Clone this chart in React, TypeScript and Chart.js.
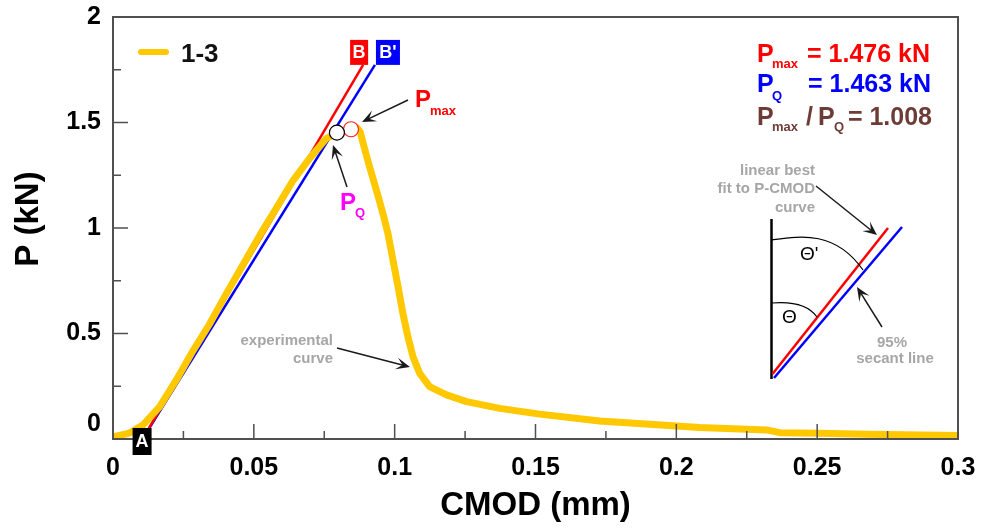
import React, { useEffect, useRef } from 'react';
import { Chart, registerables } from 'chart.js';

Chart.register(...registerables);

// ---------- data ----------
const SERIES_NAME = '1-3';
const CMOD = [
  0, 0.0059, 0.0106, 0.0166, 0.0225, 0.0284, 0.0343, 0.0403, 0.0461, 0.0521,
  0.058, 0.0639, 0.0698, 0.0758, 0.08, 0.0835, 0.0865, 0.0878, 0.0888, 0.0911,
  0.0935, 0.0958, 0.0976, 0.0994, 0.1012, 0.1029, 0.1047, 0.1065, 0.1089, 0.1124,
  0.1184, 0.1255, 0.1373, 0.1515, 0.1728, 0.1905, 0.2, 0.2083, 0.232, 0.2367,
  0.2503, 0.2675, 0.3,
];
const LOAD = [
  0.01, 0.028, 0.066, 0.153, 0.28, 0.418, 0.545, 0.69, 0.825, 0.965,
  1.095, 1.225, 1.33, 1.425, 1.452, 1.468, 1.476, 1.455, 1.401, 1.29,
  1.18, 1.07, 0.975, 0.848, 0.722, 0.596, 0.485, 0.39, 0.311, 0.248,
  0.209, 0.177, 0.145, 0.118, 0.085, 0.07, 0.062, 0.055, 0.043, 0.03,
  0.027, 0.022, 0.016,
];
// linear best fit (B) and 95% secant (B')
const LINE_B_X = [0.0105, 0.0888];
const LINE_B_Y = [0, 1.773];
const LINE_B2_X = [0.0105, 0.093];
const LINE_B2_Y = [0, 1.773];
const PMAX_POINT = [0.0845, 1.468];
const PQ_POINT = [0.0795, 1.452];
const PMAX = 1.476;
const PQ = 1.463;
const RATIO = 1.008;

const X_TICK_VALUES = [0, 0.05, 0.1, 0.15, 0.2, 0.25, 0.3];
const X_TICK_LABELS = ['0', '0.05', '0.1', '0.15', '0.2', '0.25', '0.3'];
const Y_TICK_VALUES = [0, 0.5, 1, 1.5, 2];
const Y_TICK_LABELS = ['0', '0.5', '1', '1.5', '2'];
const X_TITLE = 'CMOD (mm)';
const Y_TITLE = 'P (kN)';

const FONT = '"Liberation Sans", Arial, Helvetica, sans-serif';
const fnt = (size: number, weight = 'bold') => `${weight} ${size}px ${FONT}`;

const labelFor = (v: number, vals: number[], labels: string[]) => {
  const i = vals.findIndex((t) => Math.abs(t - v) < 1e-6);
  return i >= 0 ? labels[i] : '';
};

function arrow(ctx: CanvasRenderingContext2D, x1: number, y1: number, x2: number, y2: number) {
  const ang = Math.atan2(y2 - y1, x2 - x1);
  const hl = 14, hw = 6;
  ctx.save();
  ctx.strokeStyle = '#1a1a1a';
  ctx.fillStyle = '#1a1a1a';
  ctx.lineWidth = 1.5;
  ctx.beginPath();
  ctx.moveTo(x1, y1);
  ctx.lineTo(x2 - Math.cos(ang) * 6, y2 - Math.sin(ang) * 6);
  ctx.stroke();
  ctx.translate(x2, y2);
  ctx.rotate(ang);
  ctx.beginPath();
  ctx.moveTo(0, 0);
  ctx.lineTo(-hl, -hw);
  ctx.lineTo(-hl * 0.55, 0);
  ctx.lineTo(-hl, hw);
  ctx.closePath();
  ctx.fill();
  ctx.restore();
}

function txt(ctx: CanvasRenderingContext2D, s: string, x: number, y: number, font: string, color: string, align: CanvasTextAlign = 'left') {
  ctx.font = font;
  ctx.fillStyle = color;
  ctx.textAlign = align;
  ctx.textBaseline = 'alphabetic';
  ctx.fillText(s, x, y);
}

function boxLabel(ctx: CanvasRenderingContext2D, s: string, x: number, y: number, w: number, h: number, bg: string) {
  ctx.fillStyle = bg;
  ctx.fillRect(x, y, w, h);
  ctx.font = fnt(18);
  ctx.fillStyle = '#ffffff';
  ctx.textAlign = 'center';
  ctx.textBaseline = 'middle';
  ctx.fillText(s, x + w / 2, y + h / 2 + 1);
}

const decor = {
  id: 'decor',
  afterDatasetsDraw(chart: any) {
    const { ctx, chartArea: ca, scales } = chart;
    const xs = scales.x, ys = scales.y;
    const ox = ca.left - 113, oy = ca.top - 17;
    const X = (p: number) => p + ox;
    const Y = (p: number) => p + oy;
    ctx.save();

    // frame
    ctx.strokeStyle = '#505050';
    ctx.lineWidth = 2;
    ctx.strokeRect(ca.left, ca.top, ca.right - ca.left, ca.bottom - ca.top);

    // inward tick marks
    ctx.lineWidth = 1.5;
    ctx.beginPath();
    xs.ticks.forEach((t: any) => {
      const px = xs.getPixelForValue(t.value);
      if (px <= ca.left + 1 || px >= ca.right - 1) return;
      const major = Math.abs(t.value / 0.05 - Math.round(t.value / 0.05)) < 1e-6;
      ctx.moveTo(px, ca.bottom);
      ctx.lineTo(px, ca.bottom - (major ? 15 : 8));
    });
    ys.ticks.forEach((t: any) => {
      const py = ys.getPixelForValue(t.value);
      if (py <= ca.top + 1 || py >= ca.bottom - 1) return;
      const major = Math.abs(t.value / 0.5 - Math.round(t.value / 0.5)) < 1e-6;
      ctx.moveTo(ca.left, py);
      ctx.lineTo(ca.left + (major ? 15 : 8), py);
    });
    ctx.stroke();

    // y axis title
    ctx.save();
    ctx.translate(29, (ca.top + ca.bottom) / 2 - 9);
    ctx.rotate(-Math.PI / 2);
    ctx.font = fnt(33);
    ctx.fillStyle = '#000000';
    ctx.textAlign = 'center';
    ctx.textBaseline = 'middle';
    ctx.fillText(Y_TITLE, 0, 0);
    ctx.restore();

    // legend
    ctx.strokeStyle = '#ffc800';
    ctx.lineWidth = 6;
    ctx.lineCap = 'round';
    ctx.beginPath();
    ctx.moveTo(X(141), Y(52));
    ctx.lineTo(X(166), Y(52));
    ctx.stroke();
    ctx.lineCap = 'butt';
    txt(ctx, SERIES_NAME, X(181), Y(62), fnt(26), '#111111');

    // A, B, B' boxes
    const aX = xs.getPixelForValue(LINE_B_X[0]);
    const aY = ys.getPixelForValue(LINE_B_Y[0]);
    boxLabel(ctx, 'A', aX - 10, aY - 11, 19, 27, '#000000');
    const bX = xs.getPixelForValue(LINE_B_X[1]);
    const bY = ys.getPixelForValue(LINE_B_Y[1]);
    boxLabel(ctx, 'B', bX - 13, bY - 25, 18, 25, '#ff0000');
    const b2X = xs.getPixelForValue(LINE_B2_X[1]);
    const b2Y = ys.getPixelForValue(LINE_B2_Y[1]);
    boxLabel(ctx, "B'", b2X + 1, b2Y - 25, 24, 25, '#0000ff');

    // Pmax / PQ labels near peak
    txt(ctx, 'P', X(415), Y(107), fnt(24), '#ff0000');
    txt(ctx, 'max', X(430), Y(115), fnt(13), '#ff0000');
    arrow(ctx, X(408), Y(100), X(362), Y(122));
    txt(ctx, 'P', X(340), Y(210), fnt(24), '#ff00ff');
    txt(ctx, 'Q', X(355), Y(217), fnt(13), '#ff00ff');
    arrow(ctx, X(347), Y(187), X(333), Y(145));

    // experimental curve
    const gray = '#a6a6a6';
    txt(ctx, 'experimental', X(333), Y(345), fnt(15), gray, 'right');
    txt(ctx, 'curve', X(333), Y(363), fnt(15), gray, 'right');
    arrow(ctx, X(337), Y(348), X(410), Y(367));

    // top-right results
    const red = '#ff0000', blue = '#0000ff', brown = '#6e3c36';
    txt(ctx, 'P', X(757), Y(62), fnt(25), red);
    txt(ctx, 'max', X(772), Y(68), fnt(13), red);
    txt(ctx, `= ${PMAX.toFixed(3)} kN`, X(930), Y(62), fnt(25), red, 'right');
    txt(ctx, 'P', X(757), Y(92), fnt(25), blue);
    txt(ctx, 'Q', X(772), Y(100), fnt(13), blue);
    txt(ctx, `= ${PQ.toFixed(3)} kN`, X(931), Y(92), fnt(25), blue, 'right');
    txt(ctx, 'P', X(757), Y(125), fnt(25), brown);
    txt(ctx, 'max', X(772), Y(131), fnt(13), brown);
    txt(ctx, '/', X(806), Y(125), fnt(25), brown);
    txt(ctx, 'P', X(818), Y(125), fnt(25), brown);
    txt(ctx, 'Q', X(834), Y(131), fnt(13), brown);
    txt(ctx, `= ${RATIO.toFixed(3)}`, X(932), Y(125), fnt(25), brown, 'right');

    // inset schematic
    ctx.strokeStyle = '#000000';
    ctx.lineWidth = 2.5;
    ctx.beginPath();
    ctx.moveTo(X(771.5), Y(219));
    ctx.lineTo(X(771.5), Y(379));
    ctx.stroke();
    ctx.strokeStyle = '#ff0000';
    ctx.beginPath();
    ctx.moveTo(X(772.5), Y(374));
    ctx.lineTo(X(888), Y(228));
    ctx.stroke();
    ctx.strokeStyle = '#0000ff';
    ctx.beginPath();
    ctx.moveTo(X(774), Y(378));
    ctx.lineTo(X(902), Y(227));
    ctx.stroke();
    ctx.strokeStyle = '#000000';
    ctx.lineWidth = 1.2;
    ctx.beginPath();
    ctx.moveTo(X(771.5), Y(240));
    ctx.bezierCurveTo(X(800), Y(236), X(835), Y(230), X(863), Y(270));
    ctx.stroke();
    ctx.beginPath();
    ctx.moveTo(X(771.5), Y(303));
    ctx.quadraticCurveTo(X(805), Y(300), X(817), Y(317));
    ctx.stroke();
    txt(ctx, "\u0398'", X(800), Y(260), fnt(19, 'normal'), '#000000');
    txt(ctx, '\u0398', X(782), Y(323), fnt(19, 'normal'), '#000000');
    txt(ctx, 'linear best', X(815), Y(175), fnt(15), gray, 'right');
    txt(ctx, 'fit to P-CMOD', X(815), Y(193), fnt(15), gray, 'right');
    txt(ctx, 'curve', X(815), Y(212), fnt(15), gray, 'right');
    arrow(ctx, X(816), Y(186), X(877), Y(235));
    txt(ctx, '95%', X(892), Y(347), fnt(15), gray, 'center');
    txt(ctx, 'secant line', X(895), Y(363), fnt(15), gray, 'center');
    arrow(ctx, X(882), Y(327), X(857), Y(287));

    ctx.restore();
  },
};

const zeroPad = (s: any) => {
  s.paddingTop = 0;
  s.paddingBottom = 0;
  s.paddingLeft = 0;
  s.paddingRight = 0;
};

export default function App() {
  const ref = useRef<HTMLCanvasElement | null>(null);

  useEffect(() => {
    if (!ref.current) return;
    const pts = CMOD.map((x, i) => ({ x, y: LOAD[i] }));
    const chart = new Chart(ref.current, {
      type: 'line',
      data: {
        datasets: [
          {
            label: 'PQ',
            data: [{ x: PQ_POINT[0], y: PQ_POINT[1] }],
            showLine: false,
            pointRadius: 7.5,
            pointBackgroundColor: '#ffffff',
            pointBorderColor: '#000000',
            pointBorderWidth: 1.2,
          },
          {
            label: 'Pmax',
            data: [{ x: PMAX_POINT[0], y: PMAX_POINT[1] }],
            showLine: false,
            pointRadius: 7.5,
            pointBackgroundColor: '#ffffff',
            pointBorderColor: '#ff2020',
            pointBorderWidth: 1.2,
          },
          {
            label: SERIES_NAME,
            data: pts,
            borderColor: '#ffc800',
            borderWidth: 7,
            pointRadius: 0,
            tension: 0,
            borderJoinStyle: 'round',
            borderCapStyle: 'round',
          },
          {
            label: 'B',
            data: LINE_B_X.map((x, i) => ({ x, y: LINE_B_Y[i] })),
            borderColor: '#ff0000',
            borderWidth: 2.5,
            pointRadius: 0,
          },
          {
            label: "B'",
            data: LINE_B2_X.map((x, i) => ({ x, y: LINE_B2_Y[i] })),
            borderColor: '#0000ff',
            borderWidth: 2.5,
            pointRadius: 0,
          },
        ],
      },
      options: {
        animation: false,
        responsive: false,
        devicePixelRatio: 1,
        layout: { padding: { left: 0, right: 23, top: 17, bottom: 0 } },
        plugins: {
          legend: { display: false },
          tooltip: { enabled: false },
        },
        scales: {
          x: {
            type: 'linear',
            min: 0,
            max: 0.3,
            grid: { display: false, drawTicks: false },
            border: { display: false },
            ticks: {
              stepSize: 0.025,
              autoSkip: false,
              maxRotation: 0,
              padding: 14,
              color: '#000000',
              font: { family: FONT, size: 25, weight: 'bold' },
              callback: (v: any) => labelFor(Number(v), X_TICK_VALUES, X_TICK_LABELS),
            },
            title: {
              display: true,
              text: X_TITLE,
              color: '#000000',
              font: { family: FONT, size: 33, weight: 'bold' },
              padding: { top: 0, bottom: 4 },
            },
            afterFit: (s: any) => {
              s.height = 91;
              zeroPad(s);
            },
          },
          y: {
            type: 'linear',
            min: 0,
            max: 2,
            grid: { display: false, drawTicks: false },
            border: { display: false },
            ticks: {
              stepSize: 0.25,
              autoSkip: false,
              padding: 12,
              color: '#000000',
              font: { family: FONT, size: 25, weight: 'bold' },
              callback: (v: any) => {
                const l = labelFor(Number(v), Y_TICK_VALUES, Y_TICK_LABELS);
                return Math.abs(Number(v)) < 1e-9 ? [l, ''] : l;
              },
            },
            title: { display: false },
            afterFit: (s: any) => {
              s.width = 113;
              zeroPad(s);
            },
          },
        },
      },
      plugins: [decor],
    } as any);
    return () => chart.destroy();
  }, []);

  return (
    <div style={{ position: 'absolute', left: 0, top: 0, width: 981, height: 530, background: '#ffffff' }}>
      <canvas ref={ref} width={981} height={530} style={{ width: 981, height: 530 }} />
    </div>
  );
}
